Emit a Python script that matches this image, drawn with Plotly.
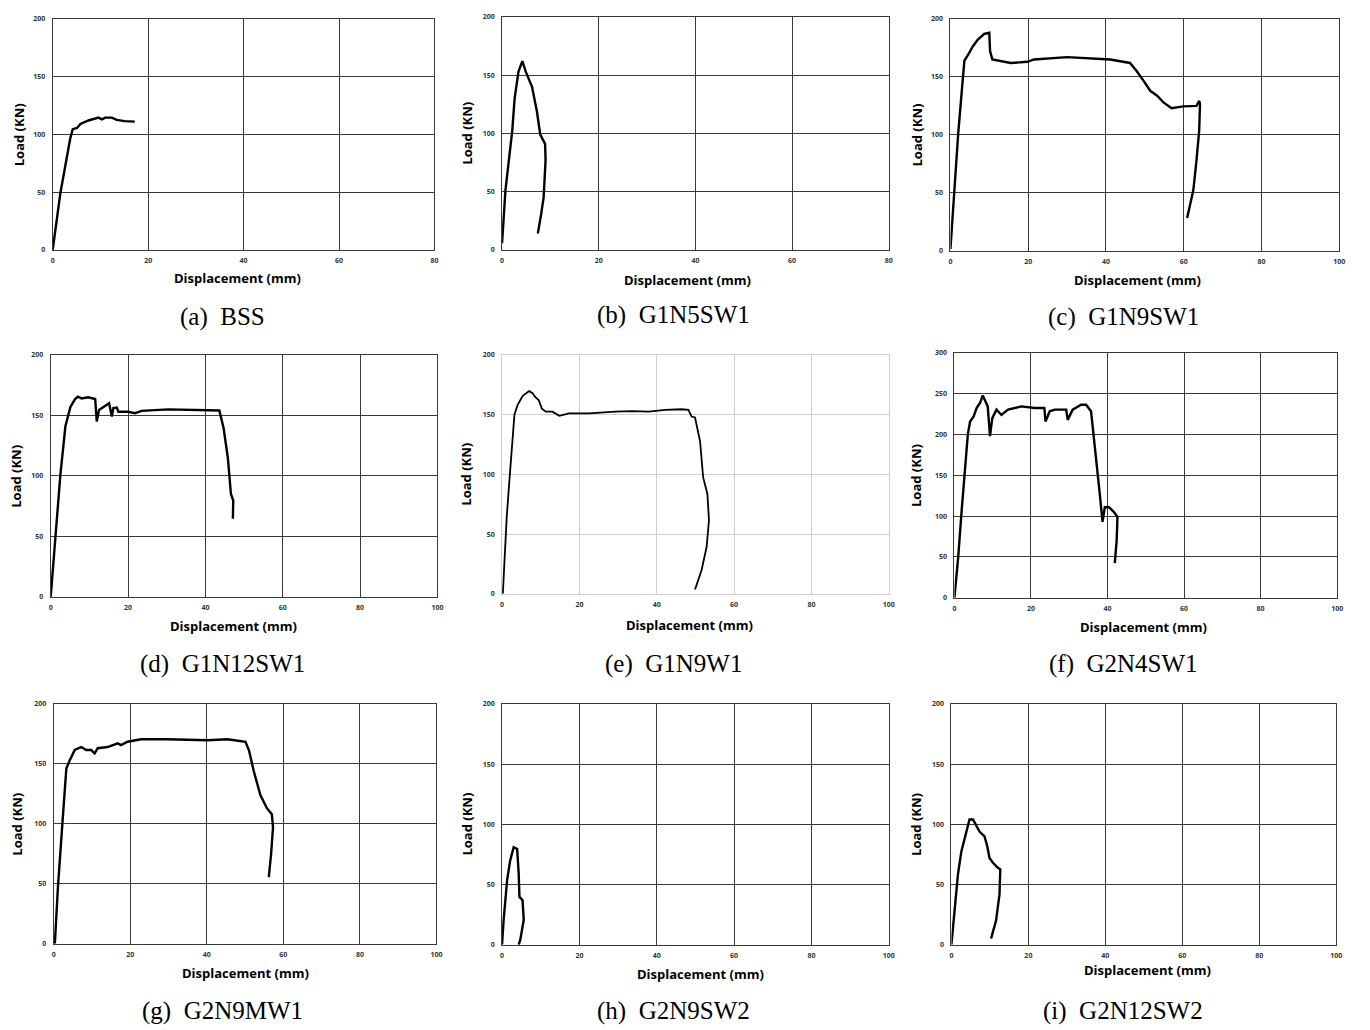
import plotly.graph_objects as go

W, H = 1370, 1030

# ---------------- data ----------------
a_x = [0, 1.6, 3.7, 4.2, 5.1, 5.8, 7.5, 9.6, 10.3, 11, 12.4, 13.4, 15.1, 17.2]
a_y = [0, 49, 97, 104.5, 105.5, 109, 112, 114.5, 113, 114.5, 114.5, 112.5, 111.5, 111]

b_x = [0, 0.7, 1.4, 2.1, 2.6, 3.4, 4.2, 4.9, 6.2, 7.2, 7.9, 8.9, 9.0, 8.6, 8.1, 7.4]
b_y = [5.7, 51, 76.6, 102, 130, 153, 162, 153, 140, 119, 99, 91, 77, 45, 31, 14]

c_x = [0, 1.0, 2.0, 3.2, 3.6, 4.9, 5.7, 7.0, 8.7, 10.0, 10.2, 10.8, 12.1, 15.5, 19.8, 21.5, 30,
       34.3, 41.1, 46.2, 47.9, 49.7, 51.4, 53.1, 54.8, 56.9, 59.9, 63.3, 64.0, 64.2, 64.0, 63.3,
       62.5, 60.9]
c_y = [1.4, 50, 101, 149, 164, 171, 176, 182, 187, 188, 172, 165, 164, 162, 163, 165, 167,
       166, 165, 162, 155, 146.5, 138, 134, 128, 123, 124.6, 125, 129.4, 126.6, 104, 78,
       52.6, 28.4]

d_x = [0, 1.2, 2.5, 3.8, 5.1, 6.3, 7.0, 8.0, 9.7, 11.5, 11.9, 12.5, 13.6, 15.1, 15.8, 16.2,
       17.1, 17.5, 20, 21.8, 23.5, 30.3, 43.6, 44.7, 45.8, 46.6, 47.2, 47.1]
d_y = [0, 49.6, 101, 141, 157, 163.5, 165.4, 164, 165, 163.5, 145, 154.5, 157, 160, 149, 156,
       156.4, 153, 153, 151.8, 153.7, 155, 154, 139.5, 115, 85, 79.6, 64.6]

e_x = [0.2, 0.6, 1.2, 1.9, 2.6, 3.2, 4.0, 5.3, 7.0, 7.9, 8.5, 9.5, 10.3, 11.3, 13, 14.8, 17.3,
       22.5, 29.3, 33.6, 37.9, 42.2, 46.4, 48.2, 49.0, 49.9, 51.2, 52.0, 53.1, 53.5, 52.9, 51.6,
       49.9]
e_y = [0, 31, 64, 95, 128, 150, 158, 165.5, 169.7, 168, 165, 162, 155, 152.5, 152.5, 149, 151,
       151, 152.5, 153, 152.5, 154, 154.5, 154, 148.4, 147.6, 127.7, 97.4, 83.6, 61.5, 39.4, 20,
       3.6]

f_x = [0, 1, 1.9, 2.8, 3.5, 4.1, 5, 5.8, 6.7, 7.4, 8, 8.7, 9.3, 9.9, 11, 12.3, 14, 17.5, 20.9,
       23.5, 23.8, 24.9, 26.2, 29.2, 29.6, 30.9, 33.1, 34.4, 35.7, 36.1, 37, 37.9, 38.7, 39.3,
       40.4, 41.7, 42.6, 42.4, 41.9]
f_y = [0, 50.5, 107, 160, 200, 216, 222, 232.5, 238.6, 248, 242.6, 234.5, 198, 220, 230.5, 224,
       230.5, 234.5, 232.5, 232.5, 216, 228.5, 230.5, 230.5, 218, 230.5, 236.5, 236.5, 228.5,
       212, 172, 131, 93, 111, 111, 105, 99, 70.8, 42.5]

g_x = [0.3, 1.1, 2.2, 3.3, 4.2, 5.5, 7.2, 8.5, 9.8, 10.7, 11.5, 14.1, 16.7, 17.6, 19.3, 22.8,
       29.7, 40.2, 45.4, 50.1, 51.0, 52.3, 54.0, 55.7, 57.0, 57.3, 56.8, 56.2]
g_y = [0, 47, 97, 146, 153, 161.5, 164, 161.5, 161.5, 158.7, 163, 164, 167, 165.6, 168.4, 170.5,
       170.5, 169.7, 170.5, 168.4, 161.5, 143.6, 124, 113, 108, 97, 74.8, 55.6]

h_x = [0, 0.4, 1.3, 2.1, 3.0, 3.9, 4.3, 4.5, 5.3, 5.6, 4.7, 4.3]
h_y = [0, 20.5, 53.4, 70, 81, 79.5, 59, 39.7, 37, 20.5, 4, 0]

i_x = [0, 0.9, 1.7, 2.6, 3.9, 4.7, 5.6, 6.5, 7.3, 8.6, 9.3, 9.9, 10.8, 12.0, 12.7, 12.5, 11.6, 10.3]
i_y = [0, 33.8, 58.5, 77.7, 94, 104, 104, 98, 94, 90, 82, 72, 68, 64, 62.6, 42, 20, 5]

captions = ["(a)  BSS", "(b)  G1N5SW1", "(c)  G1N9SW1",
            "(d)  G1N12SW1", "(e)  G1N9W1", "(f)  G2N4SW1",
            "(g)  G2N9MW1", "(h)  G2N9SW2", "(i)  G2N12SW2"]
x_label = "Displacement (mm)"
y_label = "Load (KN)"
x_max = [80, 80, 100, 100, 100, 100, 100, 100, 100]
y_max = [200, 200, 200, 200, 200, 300, 200, 200, 200]

series = [(a_x, a_y), (b_x, b_y), (c_x, c_y), (d_x, d_y), (e_x, e_y),
          (f_x, f_y), (g_x, g_y), (h_x, h_y), (i_x, i_y)]

# ---------------- layout geometry (window pixels) ----------------
boxes = [(51, 435, 14, 247), (503, 892, 12, 247), (954, 1345, 14, 248),
         (49, 438, 353, 597), (503, 892, 353, 594), (958, 1343, 351, 598),
         (52, 437, 705, 947), (503, 892, 705, 948), (955, 1342, 705, 948)]
xtitle_pos = [(237, 275), (690, 277), (1142, 277),
              (233, 626), (692, 625), (1148, 627),
              (245, 977), (703, 978), (1152, 974)]
ytitle_x = [17, 468, 920, 14, 467, 920, 15, 468, 920]
caption_pos = [(222, 315), (675, 313), (1128, 315),
               (222, 665), (675, 665), (1128, 665),
               (222, 1015), (675, 1015), (1128, 1015)]


def px(x):
    return x / W


def py(y):
    return 1 - y / H


fig = go.Figure()
annotations = []
layout = dict(width=W, height=H, margin=dict(l=0, r=0, t=0, b=0),
              paper_bgcolor="white", plot_bgcolor="white", showlegend=False)

for k in range(9):
    n = "" if k == 0 else str(k + 1)
    L, R, T, B = boxes[k]
    light = (k == 4)
    gcol = "#cfcfcf" if light else "#3a3a3a"
    xs, ys = series[k]
    fig.add_trace(go.Scatter(x=xs, y=ys, mode="lines", xaxis="x" + n, yaxis="y" + n,
                             line=dict(color="black", width=2.4 if not light else 1.8),
                             hoverinfo="skip"))
    tickfont = dict(family="Open Sans", size=7, color="#333333", weight="bold")
    layout["xaxis" + n] = dict(domain=[px(L), px(R)], anchor="y" + n, range=[0, x_max[k]],
                               dtick=20, tick0=0, showgrid=True, gridcolor=gcol, gridwidth=1,
                               showline=True, linecolor=gcol, linewidth=1, mirror=True,
                               zeroline=False, ticks="outside", ticklen=4,
                               tickcolor="rgba(0,0,0,0)", tickfont=tickfont, fixedrange=True)
    layout["yaxis" + n] = dict(domain=[py(B), py(T)], anchor="x" + n,
                               range=[0, y_max[k]], dtick=50, tick0=0, showgrid=True,
                               gridcolor=gcol, gridwidth=1, showline=True, linecolor=gcol,
                               linewidth=1, mirror=True, zeroline=False, ticks="outside",
                               ticklen=5, tickcolor="rgba(0,0,0,0)", tickfont=tickfont,
                               fixedrange=True)
    tx, ty = xtitle_pos[k]
    annotations.append(dict(text=x_label, x=px(tx), y=py(ty), xref="paper", yref="paper",
                            showarrow=False, xanchor="center", yanchor="middle",
                            font=dict(family="Open Sans", size=13, color="black",
                                      weight="bold")))
    annotations.append(dict(text=y_label, x=px(ytitle_x[k]), y=py((T + B) / 2),
                            xref="paper", yref="paper", showarrow=False, textangle=-90,
                            xanchor="center", yanchor="middle",
                            font=dict(family="Open Sans", size=13, color="black",
                                      weight="bold")))
    cx, cy = caption_pos[k]
    annotations.append(dict(text=captions[k].replace("  ", "&nbsp; "), x=px(cx),
                            y=py(cy), xref="paper", yref="paper", showarrow=False,
                            xanchor="center", yanchor="middle",
                            font=dict(family="Liberation Serif", size=25, color="black")))

layout["annotations"] = annotations
fig.update_layout(**layout)
fig.write_html("out.html",
               config={"displayModeBar": False},
               post_script="document.body.style.margin='0';"
                           "document.body.style.overflow='hidden';")
